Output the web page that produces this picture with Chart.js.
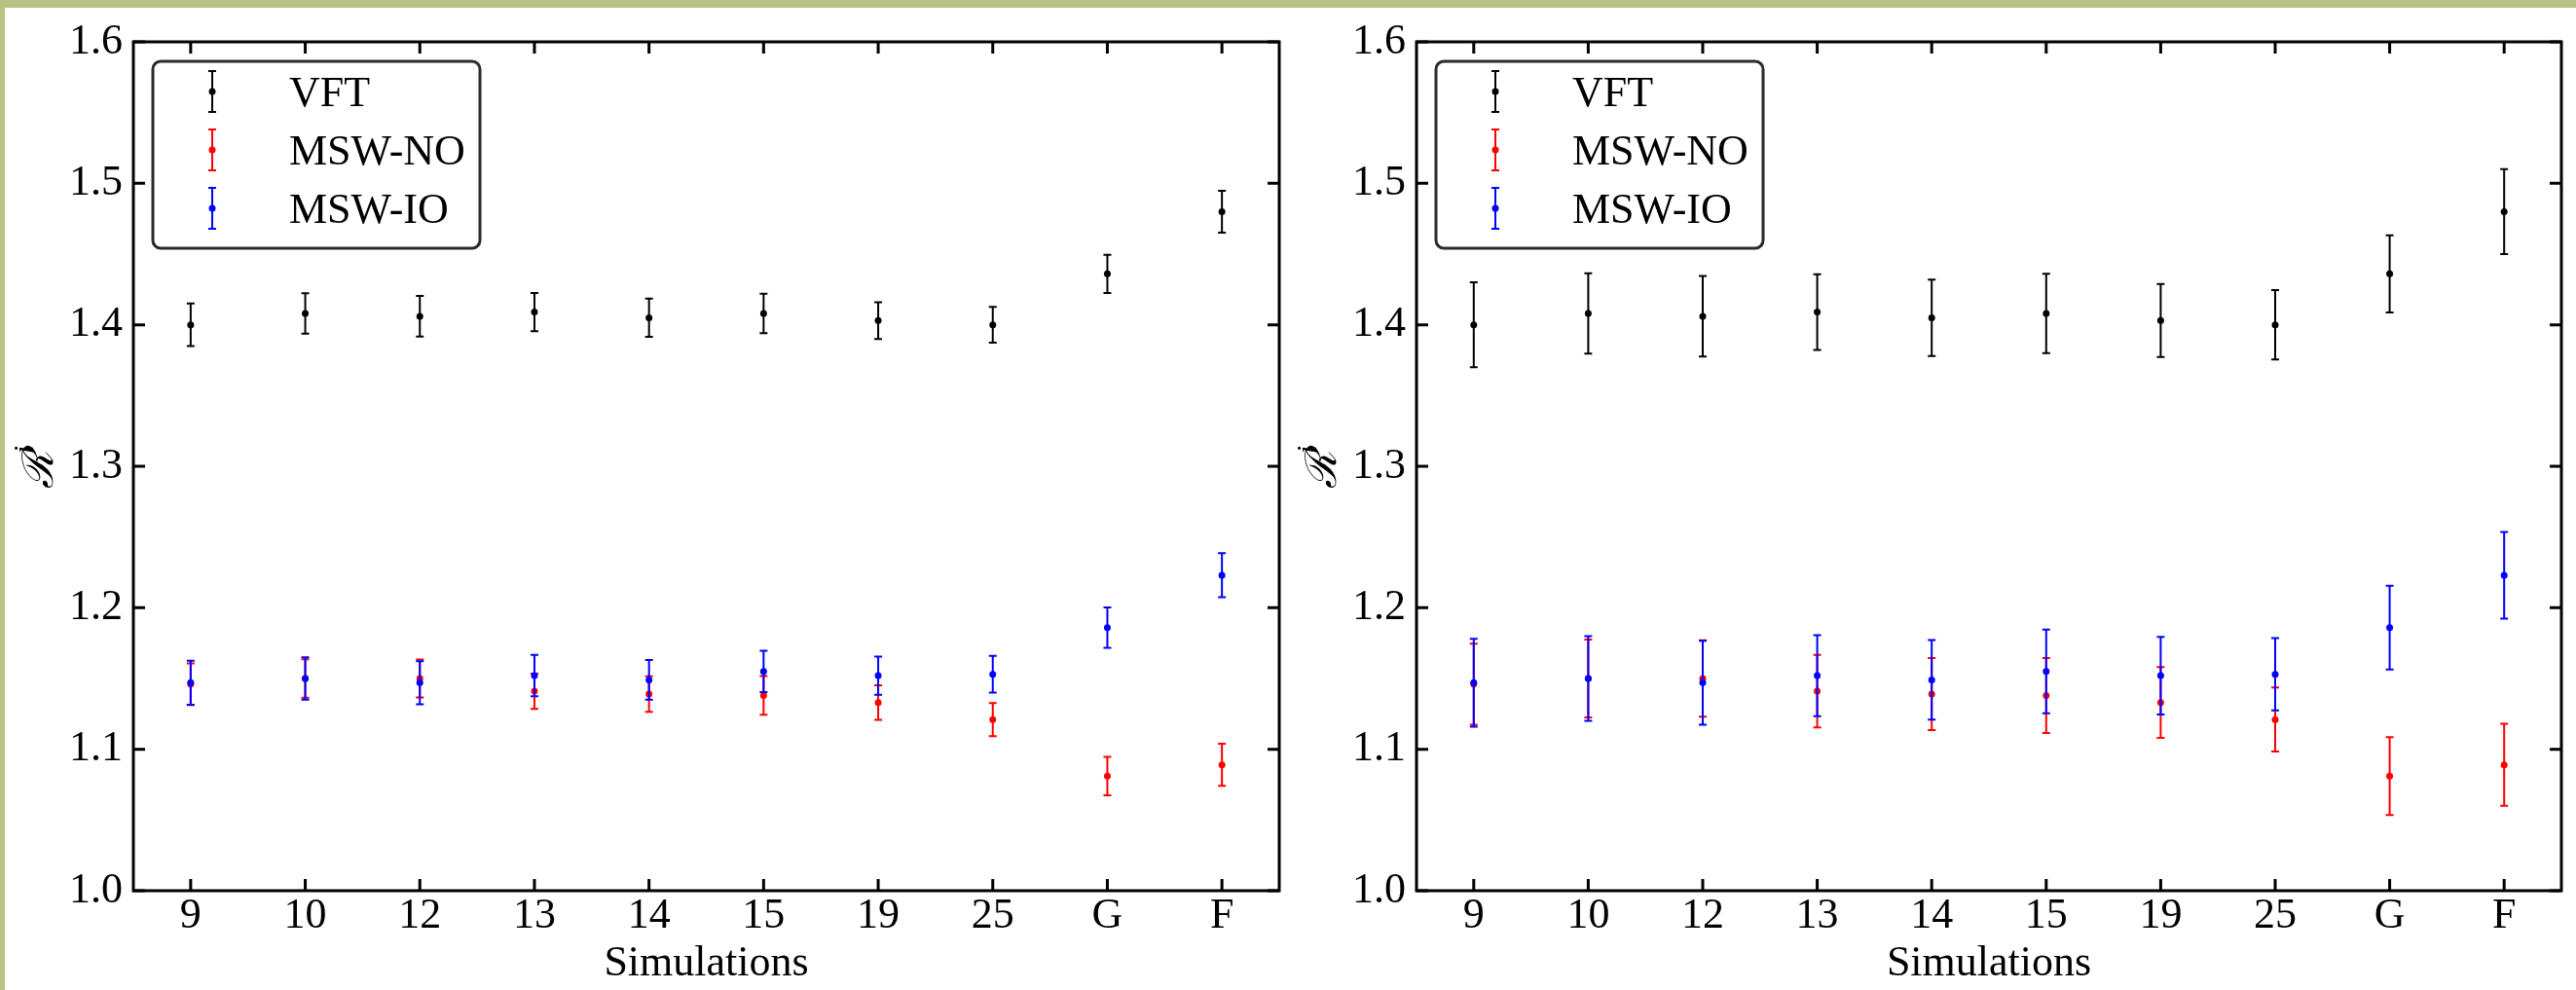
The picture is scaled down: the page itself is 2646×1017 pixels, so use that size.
<!DOCTYPE html>
<html>
<head>
<meta charset="utf-8">
<title>R^i per simulation</title>
<script src="https://cdn.jsdelivr.net/npm/chart.js@4.4.1/dist/chart.umd.min.js"></script>
<style>
  html, body { margin: 0; padding: 0; background: #fff; }
  body { width: 2646px; height: 1017px; position: relative; overflow: hidden; }
  #edgeTop { position: absolute; left: 0; top: 0; width: 2646px; height: 8px; background: #b7c382; }
  #edgeLeft { position: absolute; left: 0; top: 0; width: 5px; height: 1017px; background: #b7c382; }
  canvas { position: absolute; top: 0; }
  #leftChart { left: 0; }
  #rightChart { left: 1330px; }
</style>
</head>
<body>
<div id="edgeTop"></div>
<div id="edgeLeft"></div>
<canvas id="leftChart" width="1330" height="1017"></canvas>
<canvas id="rightChart" width="1316" height="1017"></canvas>
<script>
// ====== Data ======
const simulations = ['9', '10', '12', '13', '14', '15', '19', '25', 'G', 'F'];
const yTicks = [1.0, 1.1, 1.2, 1.3, 1.4, 1.5, 1.6];

const vftValues = [1.400, 1.408, 1.406, 1.409, 1.405, 1.408, 1.403, 1.400, 1.436, 1.480];
const noValues  = [1.146, 1.150, 1.150, 1.141, 1.139, 1.138, 1.133, 1.121, 1.081, 1.089];
const ioValues  = [1.147, 1.150, 1.147, 1.152, 1.149, 1.155, 1.152, 1.153, 1.186, 1.223];

// left panel errors
const vftErrA = [0.015, 0.0143, 0.0144, 0.0135, 0.0135, 0.0139, 0.013, 0.0127, 0.0135, 0.0148];
const noErrA  = [0.0147, 0.0136, 0.0135, 0.0125, 0.0126, 0.0137, 0.0122, 0.0117, 0.0136, 0.0149];
const ioErrA  = [0.0156, 0.015, 0.0152, 0.0146, 0.014, 0.0146, 0.0135, 0.013, 0.0143, 0.0156];

// right panel errors
const vftErrB = [0.030, 0.0284, 0.0285, 0.0267, 0.027, 0.028, 0.0258, 0.0245, 0.0272, 0.030];
const noErrB  = [0.0286, 0.0275, 0.027, 0.0256, 0.0255, 0.0265, 0.025, 0.0226, 0.0275, 0.029];
const ioErrB  = [0.031, 0.030, 0.0296, 0.0286, 0.0281, 0.0296, 0.0275, 0.0256, 0.0296, 0.0306];

const FONT = "'Liberation Serif', 'DejaVu Serif', serif";
Chart.defaults.color = '#000';
Chart.defaults.font.family = FONT;
Chart.defaults.font.size = 44;

// ====== Plugins ======
// vertical error bars with caps, drawn under each dataset's points
const errorBars = {
  id: 'errorBars',
  beforeDatasetDraw(chart, args) {
    const ds = chart.data.datasets[args.index];
    if (!ds.errors) return;
    const { ctx, scales: { x, y } } = chart;
    ctx.save();
    ctx.strokeStyle = ds.borderColor;
    ctx.lineWidth = 2;
    ds.data.forEach((v, i) => {
      const px = x.getPixelForValue(i);
      const top = y.getPixelForValue(v + ds.errors[i]);
      const bot = y.getPixelForValue(v - ds.errors[i]);
      ctx.beginPath();
      ctx.moveTo(px, top); ctx.lineTo(px, bot);
      ctx.moveTo(px - 4, top); ctx.lineTo(px + 4, top);
      ctx.moveTo(px - 4, bot); ctx.lineTo(px + 4, bot);
      ctx.stroke();
    });
    ctx.restore();
  }
};

// box frame with inward ticks on all four sides
const axesFrame = {
  id: 'axesFrame',
  afterDatasetsDraw(chart) {
    const { ctx, chartArea: a, scales: { x, y } } = chart;
    const len = 12;
    ctx.save();
    ctx.strokeStyle = '#000';
    ctx.lineWidth = 3;
    ctx.strokeRect(a.left, a.top, a.right - a.left, a.bottom - a.top);
    ctx.beginPath();
    simulations.forEach((s, i) => {
      const px = x.getPixelForValue(i);
      ctx.moveTo(px, a.bottom); ctx.lineTo(px, a.bottom - len);
      ctx.moveTo(px, a.top); ctx.lineTo(px, a.top + len);
    });
    yTicks.forEach(v => {
      const py = y.getPixelForValue(v);
      ctx.moveTo(a.left, py); ctx.lineTo(a.left + len, py);
      ctx.moveTo(a.right, py); ctx.lineTo(a.right - len, py);
    });
    ctx.stroke();

    // y axis label: script R with superscript i, rotated
    ctx.translate(a.left - 83, (a.top + a.bottom) / 2);
    ctx.rotate(-Math.PI / 2);
    ctx.fillStyle = '#000';
    ctx.textBaseline = 'alphabetic';
    ctx.textAlign = 'center';
    ctx.font = "italic 44px 'DejaVu Serif', serif";
    ctx.fillText('\u211B', -4, 0);
    ctx.font = "italic 30px " + FONT;
    ctx.fillText('i', 17, -20);
    ctx.restore();
  }
};

// legend box with error-bar markers
const errorLegend = {
  id: 'errorLegend',
  afterDraw(chart) {
    const { ctx, chartArea: a } = chart;
    const bx = a.left + 20, by = a.top + 20, bw = 336, bh = 192, r = 8;
    ctx.save();
    ctx.beginPath();
    ctx.roundRect(bx, by, bw, bh, r);
    ctx.fillStyle = '#fff';
    ctx.fill();
    ctx.lineWidth = 3;
    ctx.strokeStyle = '#2b2b2b';
    ctx.stroke();
    chart.data.datasets.forEach((ds, i) => {
      const cy = a.top + 51 + i * 60;
      const cx = a.left + 81;
      ctx.strokeStyle = ds.borderColor;
      ctx.lineWidth = 2;
      ctx.beginPath();
      ctx.moveTo(cx, cy - 21); ctx.lineTo(cx, cy + 21);
      ctx.moveTo(cx - 4, cy - 21); ctx.lineTo(cx + 4, cy - 21);
      ctx.moveTo(cx - 4, cy + 21); ctx.lineTo(cx + 4, cy + 21);
      ctx.stroke();
      ctx.beginPath();
      ctx.arc(cx, cy, 3.5, 0, Math.PI * 2);
      ctx.fillStyle = ds.borderColor;
      ctx.fill();
      ctx.fillStyle = '#000';
      ctx.font = '44px ' + FONT;
      ctx.textAlign = 'left';
      ctx.textBaseline = 'alphabetic';
      ctx.fillText(ds.label, a.left + 160, cy + 15);
    });
    ctx.restore();
  }
};

function series(label, values, errors, color, order) {
  return {
    label, data: values, errors, order,
    borderColor: color, backgroundColor: color,
    pointBackgroundColor: color, pointBorderWidth: 0,
    pointRadius: 3.5, pointHoverRadius: 3.5,
    showLine: false
  };
}

function buildPanel(id, errs, yWidth, padRight) {
  return new Chart(document.getElementById(id), {
    type: 'line',
    data: {
      labels: simulations,
      datasets: [
        series('VFT', vftValues, errs[0], '#000000', 3),
        series('MSW-NO', noValues, errs[1], '#ff0000', 2),
        series('MSW-IO', ioValues, errs[2], '#0000ff', 1)
      ]
    },
    options: {
      responsive: false,
      animation: false,
      devicePixelRatio: 1,
      events: [],
      layout: { padding: { top: 43, right: padRight, left: 0, bottom: 0 } },
      plugins: { legend: { display: false }, tooltip: { enabled: false } },
      scales: {
        x: {
          type: 'category',
          offset: true,
          grid: { display: false, drawTicks: false },
          border: { display: false },
          ticks: { padding: 0, maxRotation: 0, autoSkip: false },
          title: { display: true, text: 'Simulations', padding: { top: 0, bottom: 0 } },
          afterFit(s) { s.height = 102; }
        },
        y: {
          min: 1.0, max: 1.6,
          grid: { display: false, drawTicks: false },
          border: { display: false },
          ticks: { padding: 11, callback: v => Number(v).toFixed(1) },
          afterBuildTicks(s) { s.ticks = yTicks.map(v => ({ value: v })); },
          afterFit(s) { s.width = yWidth; }
        }
      }
    },
    plugins: [errorBars, axesFrame, errorLegend]
  });
}

buildPanel('leftChart', [vftErrA, noErrA, ioErrA], 137, 16);
buildPanel('rightChart', [vftErrB, noErrB, ioErrB], 125, 15);
</script>
</body>
</html>
